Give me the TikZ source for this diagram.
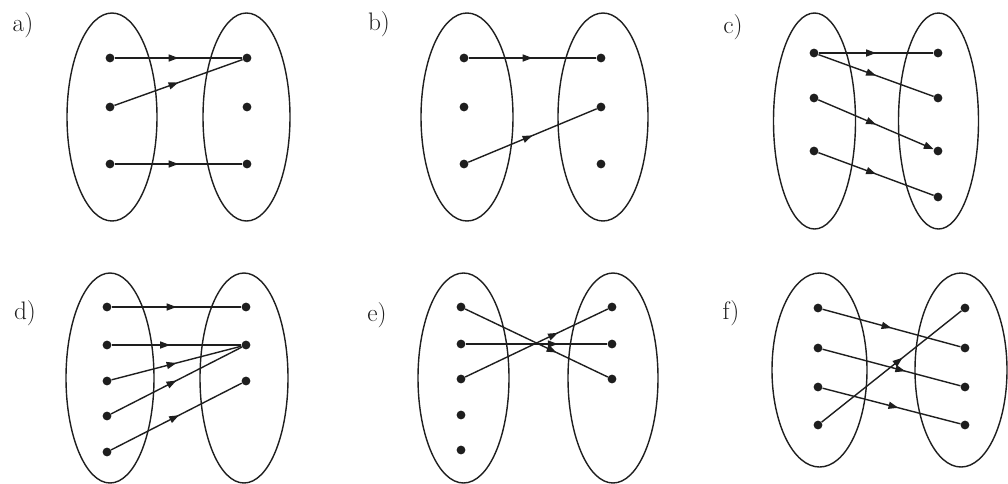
\documentclass[tikz,border=0pt]{standalone}
\usetikzlibrary{arrows.meta,decorations.markings}
\definecolor{trait}{RGB}{30,30,30}
\tikzset{
  dot/.style={circle,fill=trait,inner sep=0pt,minimum size=0.22cm},
  ens/.style={draw=trait,line width=1pt},
  mapto/.style={line width=1pt,draw=trait,
    decoration={markings,mark=at position #1 with {\arrow{Triangle[length=7pt,width=5pt]}}},
    postaction={decorate}},
  mapto/.default=0.5,
  lettre/.style={font=\fontsize{18}{20}\selectfont,text=trait}
}
% un ensemble : centre x, centre y, rayon x, rayon y
\newcommand{\Ens}[4]{%
	\draw[ens] (#1,#2) ellipse [x radius=#3, y radius=#4];%
}
% une colonne de points : prefixe, abscisse, ordonnees
\newcommand{\Points}[3]{%
	\foreach \yy [count=\i] in {#3}{
		\node[dot] (#1\i) at (#2,\yy) {};
	}%
}

\begin{document}
\begin{tikzpicture}[x=0.025cm,y=-0.025cm]
	\useasboundingbox (0,0) rectangle (1008,483);
	
	% --- a) ---
	\node[lettre] (la) at (23,25) {a)};
	\Ens{112}{117}{45}{104}
	\Ens{246.5}{117}{43.5}{104}
	\Points{aL}{110}{58,107,164}
	\Points{aR}{247}{58,107,164}
	\draw[mapto] (aL1) -- (aR1);
	\draw[mapto] (aL2) -- (aR1);
	\draw[mapto] (aL3) -- (aR3);
	
	% --- b) ---
	\node[lettre] (lb) at (379,24) {b)};
	\Ens{467}{117}{46}{104}
	\Ens{603}{117}{45}{104}
	\Points{bL}{464}{58,107,164}
	\Points{bR}{601}{58,107,164}
	\draw[mapto] (bL1) -- (bR1);
	\draw[mapto] (bL3) -- (bR2);
	
	% --- c) ---
	\node[lettre] (lc) at (733,27) {c)};
	\Ens{814.5}{121}{41}{108}
	\Ens{938.5}{121}{40}{108}
	\Points{cL}{814}{53,98,151}
	\Points{cR}{938}{53,98,151,197}
	\draw[mapto] (cL1) -- (cR1);
	\draw[mapto] (cL1) -- (cR2);
	\draw[mapto,-{Triangle[length=7pt,width=5pt]}] (cL2) -- (cR3);
	\draw[mapto] (cL3) -- (cR4);
	
	% --- d) ---
	\node[lettre] (ld) at (25,313) {d)};
	\Ens{110}{378}{44}{105}
	\Ens{244}{378}{44}{105}
	\Points{dL}{107}{307,345,381,416,452}
	\Points{dR}{246}{307,345,381}
	\draw[mapto] (dL1) -- (dR1);
	\draw[mapto=0.45] (dL2) -- (dR2);
	\draw[mapto] (dL3) -- (dR2);
	\draw[mapto] (dL4) -- (dR2);
	\draw[mapto=0.52] (dL5) -- (dR3);
	
	% --- e) ---
	\node[lettre] (le) at (377,315) {e)};
	\Ens{463.5}{378}{45.5}{105}
	\Ens{613}{378}{45}{105}
	\Points{eL}{461}{307,344,379,415,450}
	\Points{eR}{612}{307,344,379}
	\draw[mapto=0.64] (eL1) -- (eR3);
	\draw[mapto=0.65] (eL2) -- (eR2);
	\draw[mapto=0.65] (eL3) -- (eR1);
	
	% --- f) ---
	\node[lettre] (lf) at (731,313) {f)};
	\Ens{819.5}{370}{47.5}{97}
	\Ens{961}{370}{46}{97}
	\Points{fL}{818}{308,348,387,425}
	\Points{fR}{965}{308,348,387,425}
	\draw[mapto=0.5] (fL1) -- (fR2);
	\draw[mapto=0.6] (fL2) -- (fR3);
	\draw[mapto=0.55] (fL3) -- (fR4);
	\draw[mapto=0.58] (fL4) -- (fR1);
	
\end{tikzpicture}
\end{document}
